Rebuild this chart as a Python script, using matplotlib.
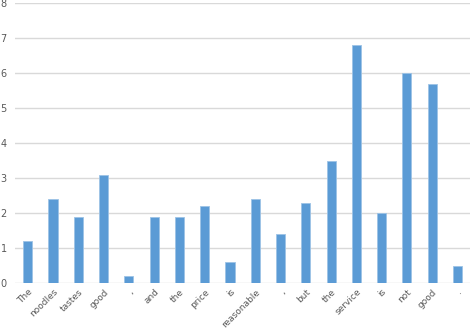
import matplotlib.pyplot as plt
import numpy as np

# -------------------------
# Data
# -------------------------
words = ["The", "noodles", "tastes", "good", ",", "and", "the", "price", "is",
         "reasonable", ",", "but", "the", "service", "is", "not", "good", "."]
scores = [1.2, 2.4, 1.9, 3.1, 0.2, 1.9, 1.9, 2.2, 0.6,
          2.4, 1.4, 2.3, 3.5, 6.8, 2.0, 6.0, 5.7, 0.5]

# -------------------------
# Plot
# -------------------------
fig = plt.figure(figsize=(4.72, 3.30), dpi=100)
ax = fig.add_axes([0.032, 0.142, 0.964, 0.848])

x = np.arange(len(words))
ax.bar(x, scores, width=0.36, color="#5B9BD5", edgecolor="#9DC3E6",
       linewidth=0.6, zorder=3)

ax.set_xlim(-0.5, len(words) - 0.5)
ax.set_ylim(0, 8)
ax.set_yticks(range(0, 9))
ax.yaxis.grid(True, color="#D9D9D9", linewidth=1.0, zorder=0)

ax.set_xticks(x)
ax.set_xticklabels(words, rotation=45, ha="right", va="top",
                   rotation_mode="anchor", fontsize=6.5, color="#595959")
ax.tick_params(axis="y", labelsize=7, labelcolor="#595959", length=0, pad=6)
ax.tick_params(axis="x", length=0, pad=3)

for s in ax.spines.values():
    s.set_visible(False)

fig.savefig("out.png", dpi=100)
plt.close()
